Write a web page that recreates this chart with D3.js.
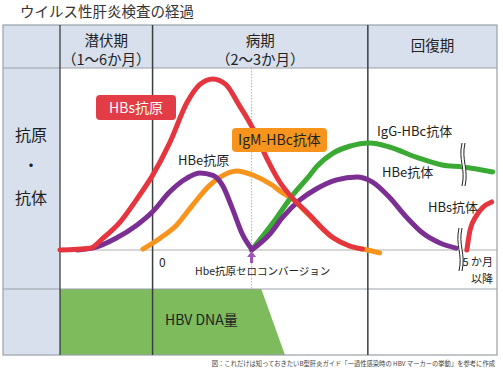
<!DOCTYPE html>
<html><head><meta charset="utf-8">
<script src="https://cdn.jsdelivr.net/npm/d3@7"></script>
<style>body{margin:0;background:#fff}svg{display:block;font-family:"Noto Sans CJK JP","Noto Sans",sans-serif}</style>
</head><body><svg id="c" width="503" height="373"></svg>
<script>
// ---- data ----
const title = "ウイルス性肝炎検査の経過";
const phaseNames = ["潜伏期", "病期", "回復期"];
const phaseSubs = ["（1〜6か月）", "（2〜3か月）", ""];
const phaseBounds = [-43, 0, 100, 160];
const seroconversion = 46;
const hbsAg = [[-43,0],[-29,1],[-23,6.5],[-15,15.5],[-7,28.5],[0,41],[8,59],[16,81],[22,91],[28,94],[34,91],[40,80],[46.5,67],[53,50.5],[59,37.5],[65,28.5],[71.5,21],[83.5,7],[91.5,2.2],[97.5,0.5]];
const hbeAg = [[-35,0],[-28,1],[-17,6.5],[-7.5,13.5],[0,21],[8,32],[16,39.5],[22,42.3],[28,41],[32.5,35.5],[37,23],[42,8],[46,0.5]];
const igmHbc = [[-4.5,0.5],[3.5,6.5],[11,13.5],[18.5,24.5],[26.5,35.5],[34.5,42],[39,43.4],[46.5,41.2],[55.5,35.7],[60.5,31.3],[65,28],[71.5,20.5],[83.5,7],[91.5,2.2],[100,0],[105.5,-1.6]];
const iggHbc = [[46,0],[57.5,17.5],[65,30],[73,41],[76,45.5],[83.5,53],[91.5,57],[101,58.8],[110,56.6],[122.5,51],[134.5,46.7],[144,45.6],[158,42.9]];
const hbeAb = [[46,0],[54.5,8.8],[60.5,18],[68.5,27.5],[76,33.5],[85.5,38.5],[95,40.1],[102,37.4],[110,29],[118,18],[125.5,9.3],[133.5,3.8],[141,1]];
const hbsAb = [[146,0],[147.5,11],[150.5,19],[153.5,23.5],[157.5,26.4]];
const hbvDna = [[-43,1],[50.5,1],[61.5,0]];
const footnote = "図：これだけは知っておきたいB型肝炎ガイド「一過性感染時の HBV マーカーの挙動」を参考に作成";

// ---- layout ----
const svg = d3.select("#c");
const L = 3, R = 497, T = 25, HB = 68, AX = 250, RB = 289, B = 355, LC = 60;
const x = d3.scaleLinear().domain([-43, 160]).range([LC, R]);
const y = d3.scaleLinear().domain([0, 100]).range([AX, HB]);
const yd = d3.scaleLinear().domain([0, 1]).range([B, RB]);
const head = "#d7e0ec";

svg.append("text").attr("x", 20).attr("y", 17).attr("font-size", 14.5).attr("fill", "#333").text(title);

// backgrounds
svg.append("rect").attr("x", L).attr("y", T).attr("width", R - L).attr("height", HB - T).attr("fill", head);
svg.append("rect").attr("x", L).attr("y", T).attr("width", LC - L).attr("height", B - T).attr("fill", head);

// DNA area
svg.append("path").datum(hbvDna)
  .attr("d", d3.area().x(d => x(d[0])).y0(yd(0)).y1(d => yd(d[1])))
  .attr("fill", "#7dbb5d");

// grid lines
svg.append("line").attr("x1", LC).attr("x2", R).attr("y1", y(0)).attr("y2", y(0)).attr("stroke", "#b0b0b0").attr("stroke-width", 1);
[HB, RB].forEach(v => svg.append("line").attr("x1", L).attr("x2", R).attr("y1", v).attr("y2", v).attr("stroke", "#9aa0a8").attr("stroke-width", 1));
svg.append("line").attr("x1", x(seroconversion)).attr("x2", x(seroconversion)).attr("y1", HB).attr("y2", RB)
  .attr("stroke", "#b5b5b5").attr("stroke-width", 1).attr("stroke-dasharray", "1.5,1.5");
svg.append("rect").attr("x", L).attr("y", T).attr("width", R - L).attr("height", B - T).attr("fill", "none").attr("stroke", "#9aa0a8").attr("stroke-width", 1.2);
svg.append("line").attr("x1", LC).attr("x2", LC).attr("y1", T).attr("y2", B).attr("stroke", "#333").attr("stroke-width", 1.2);
phaseBounds.slice(1, 3).forEach(b => svg.append("line").attr("x1", x(b)).attr("x2", x(b)).attr("y1", T).attr("y2", B).attr("stroke", "#3a3f3f").attr("stroke-width", 1.5));

// header labels
phaseNames.forEach((n, i) => {
  const cx = (x(phaseBounds[i]) + x(phaseBounds[i + 1])) / 2;
  const sub = phaseSubs[i];
  svg.append("text").attr("x", cx).attr("y", sub ? 46 : 51).attr("text-anchor", "middle").attr("font-size", 14.5).attr("fill", "#222").text(n);
  if (sub) svg.append("text").attr("x", cx).attr("y", 65).attr("text-anchor", "middle").attr("font-size", 14.5).attr("fill", "#222").text(sub);
});

// left labels
[["抗原", 141], ["・", 171], ["抗体", 204]].forEach(([t, yy]) =>
  svg.append("text").attr("x", 31).attr("y", yy).attr("text-anchor", "middle").attr("font-size", 16).attr("fill", "#222").text(t));

// curves
const line = d3.line().x(d => x(d[0])).y(d => y(d[1])).curve(d3.curveMonotoneX);
const series = [
  [igmHbc, "#f7941d"], [iggHbc, "#3aaa35"], [hbeAg, "#7b2f93"], [hbeAb, "#7b2f93"], [hbsAg, "#e5353f"], [hbsAb, "#e5353f"]
];
series.forEach(([d, c]) => svg.append("path").datum(d).attr("d", line).attr("fill", "none")
  .attr("stroke", c).attr("stroke-width", 5).attr("stroke-linecap", "round").attr("stroke-linejoin", "round"));

// break marks
function brk(cx, y0, y1) {
  const g = svg.append("g");
  const p = (dx) => `M${cx + dx},${y0} C${cx + dx - 4},${y0 + (y1 - y0) * 0.4} ${cx + dx + 4},${y0 + (y1 - y0) * 0.6} ${cx + dx},${y1}`;
  g.append("path").attr("d", p(1.5)).attr("fill", "none").attr("stroke", "#fff").attr("stroke-width", 4);
  [0, 3].forEach(dx => g.append("path").attr("d", p(dx)).attr("fill", "none").attr("stroke", "#222").attr("stroke-width", 1));
}
brk(462, 143, 186);
brk(459, 228, 271);

// seroconversion arrow
const ax = x(seroconversion);
svg.append("path").attr("d", `M${ax},${y(0) + 1} L${ax - 4.5},${y(0) + 7} L${ax - 1.6},${y(0) + 7} L${ax - 1.6},${y(0) + 13} L${ax + 1.6},${y(0) + 13} L${ax + 1.6},${y(0) + 7} L${ax + 4.5},${y(0) + 7} Z`).attr("fill", "#9b59b6");

// labels
function box(x0, y0, w, h, fill, txt, tc) {
  svg.append("rect").attr("x", x0).attr("y", y0).attr("width", w).attr("height", h).attr("rx", 4).attr("fill", fill);
  svg.append("text").attr("x", x0 + w / 2).attr("y", y0 + h / 2 + 5).attr("text-anchor", "middle").attr("font-size", 14).attr("fill", tc).text(txt);
}
box(96, 95, 80, 25, "#e23c46", "HBs抗原", "#fff");
box(232, 128, 95, 24, "#f7941d", "IgM-HBc抗体", "#222");

const lab = (t, xx, yy, fs, anchor) => svg.append("text").attr("x", xx).attr("y", yy).attr("font-size", fs).attr("fill", "#222").attr("text-anchor", anchor || "start").text(t);
lab("HBe抗原", 178, 165, 13);
lab("IgG-HBc抗体", 377, 136, 13);
lab("HBe抗体", 382, 177, 13);
lab("HBs抗体", 428, 212, 13);
lab("0", 159, 267, 12);
lab("Hbe抗原セロコンバージョン", 195, 275, 10.5);
lab("HBV DNA量", 165, 325, 14);
lab("5 か月", 493, 266, 11, "end");
lab("以降", 493, 283, 11, "end");
svg.append("text").attr("x", 495).attr("y", 366).attr("font-size", 6.3).attr("fill", "#444").attr("text-anchor", "end").text(footnote);
</script></body></html>
